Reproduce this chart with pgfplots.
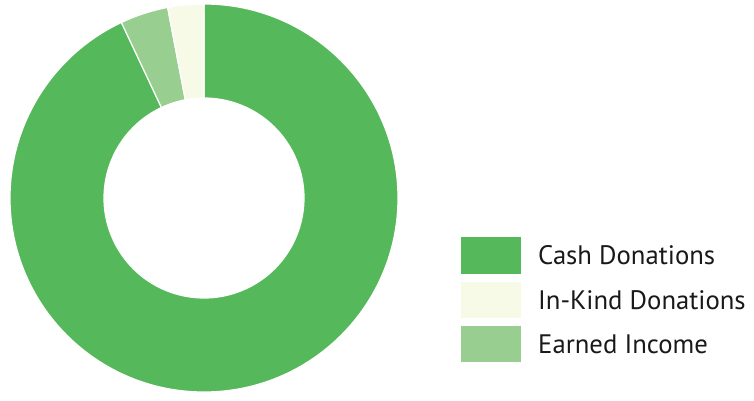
\documentclass[border=0pt]{standalone}
\usepackage{fontspec}
\setmainfont{PT Sans}
\usepackage{pgfplots}
\pgfplotsset{compat=1.18}

\definecolor{cashgreen}{HTML}{55B85A}
\definecolor{inkind}{HTML}{F8FAE8}
\definecolor{earned}{HTML}{98CE8F}

% shares in percent
\def\cash{93}
\def\earned{4}
\def\inkind{3}

% slices run clockwise from 12 o'clock
\pgfmathsetmacro\aA{90}
\pgfmathsetmacro\aB{90-3.6*\cash}
\pgfmathsetmacro\aC{\aB-3.6*\earned}
\pgfmathsetmacro\aD{\aC-3.6*\inkind}

\newcommand\slice[3]{%
  \fill[#3, draw=white, line width=1.2bp]
    ([shift={(#1:194bp)}]axis cs:204,202) arc[start angle=#1, end angle=#2, radius=194bp]
    -- ([shift={(#2:100bp)}]axis cs:204,202) arc[start angle=#2, end angle=#1, radius=100bp]
    -- cycle;}

\begin{document}
\begin{tikzpicture}
\begin{axis}[
    x=1bp, y=1bp,
    xmin=0, xmax=754, ymin=0, ymax=400,
    hide axis,
    clip=false,
]
\path (axis cs:0,0) rectangle (axis cs:754,400);
\slice{\aA}{\aB}{cashgreen}
\slice{\aB}{\aC}{earned}
\slice{\aC}{\aD}{inkind}

\fill[cashgreen] (axis cs:461,126) rectangle (axis cs:521,163);
\fill[inkind]    (axis cs:461,82)  rectangle (axis cs:521,118);
\fill[earned]    (axis cs:461,38)  rectangle (axis cs:521,74);
\begin{scope}[every node/.style={anchor=west, inner sep=0pt, font=\fontsize{26.8}{30}\selectfont, text=black!90}]
\node at (axis cs:538,144.5) {Cash Donations};
\node at (axis cs:538,100) {In-Kind Donations};
\node at (axis cs:538,56) {Earned Income};
\end{scope}
\end{axis}
\end{tikzpicture}
\end{document}
